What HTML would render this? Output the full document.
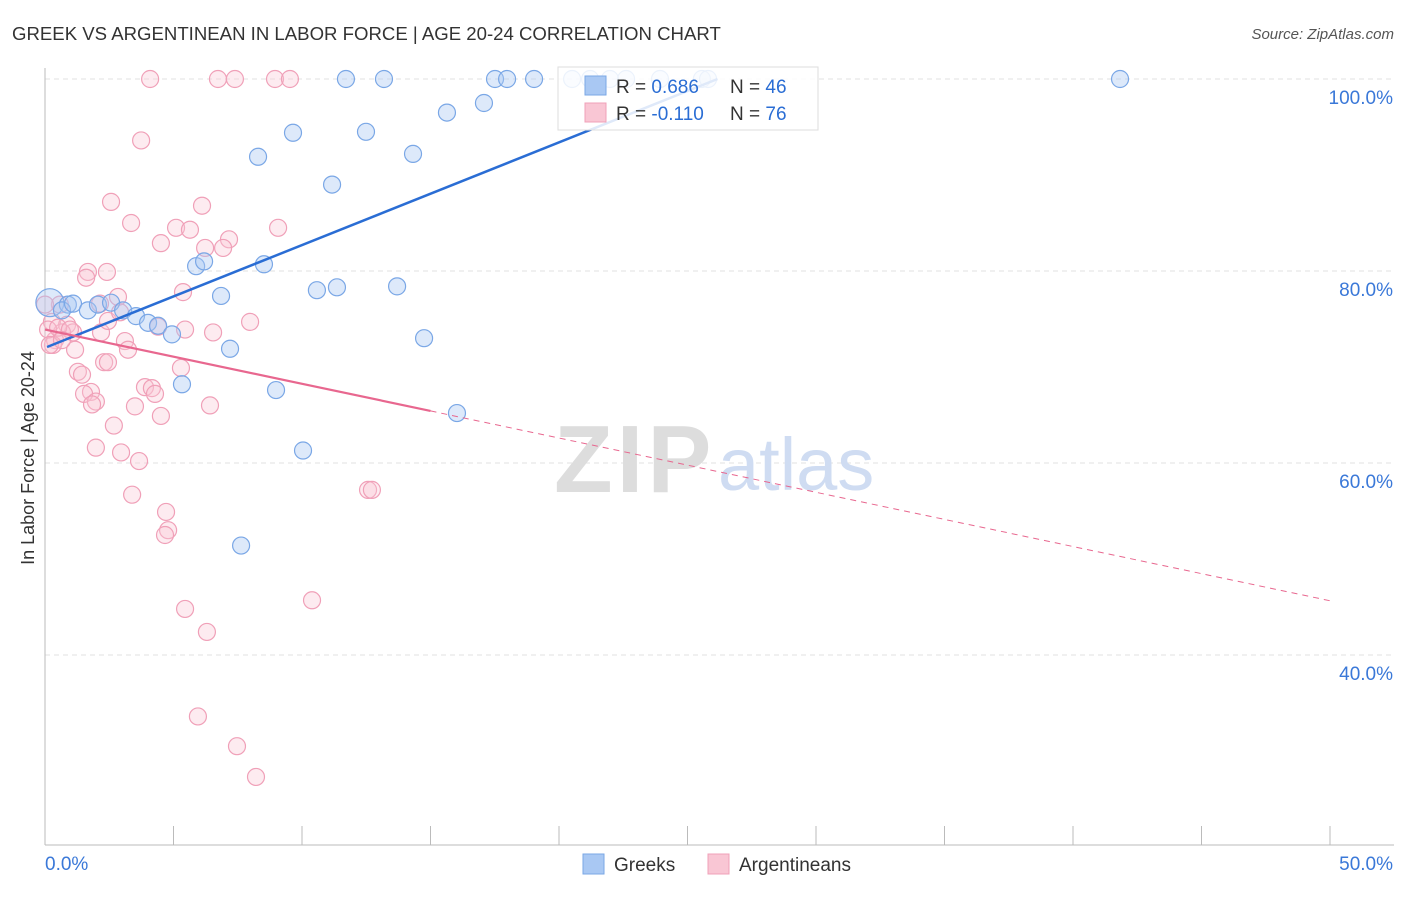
<!DOCTYPE html>
<html><head><meta charset="utf-8"><style>
body{margin:0;background:#fff;font-family:"Liberation Sans",sans-serif}
svg text{font-family:"Liberation Sans",sans-serif}
</style></head><body>
<svg id="c" width="1406" height="892">
<text x="12" y="40" font-size="18.6" fill="#333">GREEK VS ARGENTINEAN IN LABOR FORCE | AGE 20-24 CORRELATION CHART</text>
<text x="1394" y="39" font-size="15" fill="#555" font-style="italic" text-anchor="end">Source: ZipAtlas.com</text>
<text x="0" y="0" transform="translate(34,458) rotate(-90)" font-size="18" fill="#333" text-anchor="middle">In Labor Force | Age 20-24</text>
<g id="grid"></g>
<text x="554" y="492" font-size="96" font-family="Liberation Serif" fill="#ddd" font-weight="bold" letter-spacing="4">ZIP</text>
<text x="718" y="490" font-size="74" fill="#cfdcf2">atlas</text>
<g id="pts"></g>
<g id="lines"></g>
<g>
<rect x="558" y="67" width="260" height="63" fill="#fff" fill-opacity="0.85" stroke="#ddd"/>
<rect x="585" y="76" width="21" height="19" fill="#a9c8f3" stroke="#7aa7e6"/>
<rect x="585" y="103" width="21" height="19" fill="#f9c6d4" stroke="#f0a0b8"/>
<text x="616" y="93" font-size="19" fill="#333">R = <tspan fill="#2a6dd4">0.686</tspan></text>
<text x="730" y="93" font-size="19" fill="#333">N = <tspan fill="#2a6dd4">46</tspan></text>
<text x="616" y="120" font-size="19" fill="#333">R = <tspan fill="#2a6dd4">-0.110</tspan></text>
<text x="730" y="120" font-size="19" fill="#333">N = <tspan fill="#2a6dd4"> 76</tspan></text>
</g>
<g>
<rect x="583" y="854" width="21" height="20" fill="#a9c8f3" stroke="#7aa7e6"/>
<text x="614" y="871" font-size="19" fill="#333">Greeks</text>
<rect x="708" y="854" width="21" height="20" fill="#f9c6d4" stroke="#f0a0b8"/>
<text x="739" y="871" font-size="19" fill="#333">Argentineans</text>
</g>
</svg>
<script>
const xTicks=[0,50];
const yTicks=[40,60,80,100];
const blueX=[0.19,0.89,0.66,1.09,1.67,2.06,2.57,3.04,3.54,4.01,4.40,4.94,5.33,5.88,6.19,6.85,7.20,7.63,8.29,8.52,8.99,9.65,10.04,10.58,11.17,11.36,11.71,12.49,13.19,13.70,14.32,14.75,15.64,16.03,17.08,17.51,17.98,19.03,20.51,21.21,22.61,23.93,25.56,25.80,41.83,21.98];
const blueY=[76.7,76.5,75.9,76.6,75.9,76.5,76.7,75.9,75.3,74.6,74.3,73.4,68.2,80.5,81.0,77.4,71.9,51.4,91.9,80.7,67.6,94.4,61.3,78.0,89.0,78.3,100,94.5,100,78.4,92.2,73.0,96.5,65.2,97.5,100,100,100,100,100,100,100,100,100,100,100];
const pinkX=[4.09,6.73,7.39,8.95,9.53,3.74,2.57,3.35,6.11,5.10,5.64,9.07,4.51,7.16,6.23,6.93,1.67,1.60,2.41,2.84,5.37,7.98,6.54,0.58,0.27,0.86,1.09,0.66,0.39,0.31,2.18,2.45,3.11,3.23,1.17,2.30,2.45,1.28,1.44,5.29,3.89,4.16,4.28,1.79,1.52,1.98,1.83,3.50,6.42,4.51,2.68,1.98,2.96,3.66,3.39,12.57,12.72,4.71,4.79,4.67,5.45,10.39,6.30,5.95,7.47,8.21,0.0,0.12,0.51,0.97,5.45,4.40,0.19,0.66,2.92,2.14];
const pinkY=[100,100,100,100,100,93.6,87.2,85.0,86.8,84.5,84.3,84.5,82.9,83.3,82.4,82.4,79.9,79.3,79.9,77.3,77.8,74.7,73.6,76.5,74.7,74.4,73.6,73.6,72.8,72.3,73.6,74.8,72.7,71.8,71.8,70.5,70.5,69.5,69.2,69.9,67.9,67.8,67.2,67.4,67.2,66.4,66.1,65.9,66.0,64.9,63.9,61.6,61.1,60.2,56.7,57.2,57.2,54.9,53.0,52.5,44.8,45.7,42.4,33.6,30.5,27.3,76.5,73.9,74.1,73.9,73.9,74.2,72.3,72.8,75.7,76.6];
const blueTrend=[72.0,1.07];
const pinkTrend=[73.9,-0.565];
const X=v=>45+v*25.7, Y=v=>79+(100-v)*9.6;
const NS="http://www.w3.org/2000/svg";
function mk(t,a,p){const e=document.createElementNS(NS,t);for(const k in a)e.setAttribute(k,a[k]);p.appendChild(e);return e;}
const g=document.getElementById('grid');
yTicks.forEach(t=>{
 const l=mk('line',{x1:45,x2:1394,y1:Y(t),y2:Y(t),stroke:'#e2e2e2','stroke-dasharray':'5,4'},g);
 
 
 const tx=mk('text',{x:1393,y:Y(t)+25,'font-size':19,fill:'#3a78d8','text-anchor':'end'},g);
 tx.textContent=t.toFixed(1)+'%';
 
 
});
mk('line',{x1:45,x2:45,y1:68,y2:845,stroke:'#bbb'},g);
mk('line',{x1:45,x2:1394,y1:845,y2:845,stroke:'#bbb'},g);
for(let i=0;i<=10;i++){mk('line',{x1:X(i*5),x2:X(i*5),y1:826,y2:845,stroke:'#bbb'},g);}
xTicks.forEach((t,i)=>{
 const tx=mk('text',{x:i?1393:45,y:870,'font-size':19,fill:'#3a78d8','text-anchor':i?'end':'start'},g);
 tx.textContent=t.toFixed(1)+'%';
 
 
});
const p=document.getElementById('pts');
pinkX.forEach((x,i)=>{
 const c=mk('circle',{cx:X(x),cy:Y(pinkY[i]),r:8.5,fill:'#f9c6d4','fill-opacity':0.35,stroke:'#f0a0b8','stroke-width':1.2},p);
 
 
});
blueX.forEach((x,i)=>{
 const c=mk('circle',{cx:X(x),cy:Y(blueY[i]),r:i==0?14:8.5,fill:'#a9c8f3','fill-opacity':0.4,stroke:'#7aa7e6','stroke-width':1.2},p);
 
 
});
const L=document.getElementById('lines');
const bEnd=(100-blueTrend[0])/blueTrend[1];
const bl=mk('line',{x1:X(0.08),y1:Y(blueTrend[0]+blueTrend[1]*0.08),x2:X(bEnd),y2:Y(100),stroke:'#2a6dd4','stroke-width':2.5},L);


const pl=mk('line',{x1:X(0),y1:Y(pinkTrend[0]),x2:X(15),y2:Y(pinkTrend[0]+pinkTrend[1]*15),stroke:'#e8678f','stroke-width':2.2},L);


const pd=mk('line',{x1:X(15),y1:Y(pinkTrend[0]+pinkTrend[1]*15),x2:X(50),y2:Y(pinkTrend[0]+pinkTrend[1]*50),stroke:'#e8678f','stroke-width':1,'stroke-dasharray':'6,5'},L);


</script>
</body></html>
